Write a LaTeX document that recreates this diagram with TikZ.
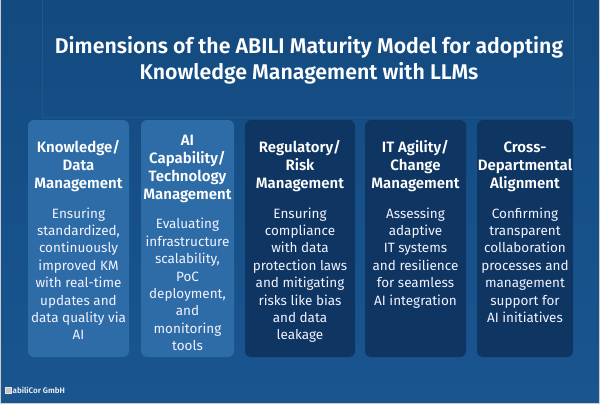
\documentclass[tikz,border=0pt]{standalone}
\usepackage{fontspec}
\setmainfont{Fira Sans}[BoldFont={Fira Sans SemiBold}]
\definecolor{bgtop}{HTML}{134B80}
\definecolor{bgbot}{HTML}{1A5590}
\definecolor{lightcard}{HTML}{2E6CA8}
\definecolor{darkcard}{HTML}{0F3562}
\definecolor{titleedge}{HTML}{22578A}
\tikzset{
  card/.style={rounded corners=6pt, draw=none},
  lightbox/.style={card, fill=lightcard},
  darkbox/.style={card, fill=darkcard},
  headtxt/.style={anchor=north, inner sep=0pt, align=center, text=white, font=\fontsize{15}{18}\selectfont\bfseries},
  bodytxt/.style={anchor=north, inner sep=0pt, align=center, text=white!95!blue, font=\fontsize{13.5}{17.4}\selectfont},
}
\begin{document}
\begin{tikzpicture}[x=1pt,y=-1pt]
\useasboundingbox (0,0) rectangle (600,404);
\shade[top color=bgtop, bottom color=bgbot] (0,0) rectangle (600,404);
% outer light edges
\draw[gray!40, line width=1.2pt] (0.5,0) -- (0.5,403.4) -- (599.4,403.4) -- (599.4,0);
% title frame
\node[draw=titleedge, line width=0.6pt, minimum width=531pt, minimum height=118pt, inner sep=0pt] (tframe) at (307.5,58) {};
\node[inner sep=0pt, align=center, text=white, font=\fontsize{21.3}{26}\selectfont\bfseries] (title) at (309,60)
  {Dimensions of the ABILI Maturity Model for adopting\\Knowledge Management with LLMs};
% cards
\path[lightbox] (28,120) rectangle (129,357);
\path[lightbox] (141,120) rectangle (234,357);
\path[darkbox] (245,120) rectangle (355,357);
\path[darkbox] (365,120) rectangle (466,357);
\path[darkbox] (477,120) rectangle (573,357);
% card 1
\node[headtxt] (h1) at (78.5,139.4) {\strut Knowledge/\\Data\\Management};
\node[bodytxt] (b1) at (78.5,205.8) {\strut Ensuring\\standardized,\\continuously\\improved KM\\with real-time\\updates and\\data quality via\\AI};
% card 2
\node[headtxt] (h2) at (187.5,132.4) {\strut AI\\Capability/\\Technology\\Management};
\node[bodytxt] (b2) at (187.5,216.5) {\strut Evaluating\\infrastructure\\scalability,\\PoC\\deployment,\\and\\monitoring\\tools};
% card 3
\node[headtxt] (h3) at (300,139.4) {\strut Regulatory/\\Risk\\Management};
\node[bodytxt] (b3) at (300,205.8) {\strut Ensuring\\compliance\\with data\\protection laws\\and mitigating\\risks like bias\\and data\\leakage};
% card 4
\node[headtxt] (h4) at (415.5,139.4) {\strut IT Agility/\\Change\\Management};
\node[bodytxt] (b4) at (415.5,205.8) {\strut Assessing\\adaptive\\IT systems\\and resilience\\for seamless\\AI integration};
% card 5
\node[headtxt] (h5) at (525,139.4) {\strut Cross-\\Departmental\\Alignment};
\node[bodytxt] (b5) at (525,205.8) {\strut Confirming\\transparent\\collaboration\\processes and\\management\\support for\\AI initiatives};
% footer
\node[draw=white!80!gray, fill=white!55!gray, minimum size=5.5pt, inner sep=0pt] (logo) at (8,390) {};
\node[anchor=west, inner sep=0pt, text=white!90!gray, font=\fontsize{8}{9}\selectfont\bfseries] (foot) at (12.5,390.5) {abiliCor GmbH};
\end{tikzpicture}
\end{document}
